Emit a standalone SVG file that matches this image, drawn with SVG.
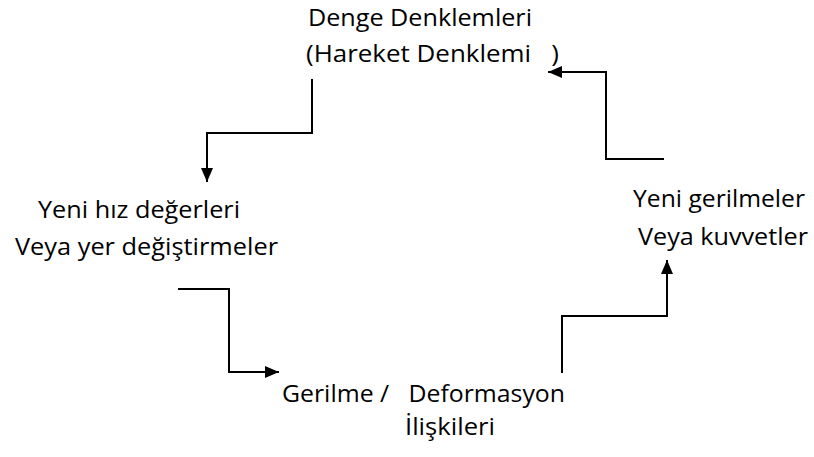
<svg xmlns="http://www.w3.org/2000/svg" width="814" height="457" viewBox="0 0 814 457">
<style>
text{font-family:"Open Sans","Noto Sans",sans-serif;font-size:23.5px;fill:#000;white-space:pre}
.c{fill:none;stroke:#000;stroke-width:2}
</style>
<defs>
<marker id="ah" viewBox="0 0 14 12" refX="14" refY="6" markerWidth="14" markerHeight="12" markerUnits="userSpaceOnUse" orient="auto">
<path d="M0,0 L14,6 L0,12 Z" fill="#000"/>
</marker>
</defs>
<rect width="814" height="457" fill="#fff"/>
<g id="n-denge">
<text x="308" y="26" textLength="224" lengthAdjust="spacingAndGlyphs">Denge Denklemleri</text>
<text x="306" y="62" xml:space="preserve" textLength="253" lengthAdjust="spacingAndGlyphs">(Hareket Denklemi   )</text>
</g>
<g id="n-hiz">
<text x="38" y="218" textLength="202" lengthAdjust="spacingAndGlyphs">Yeni hız değerleri</text>
<text x="15" y="255" textLength="263" lengthAdjust="spacingAndGlyphs">Veya yer değiştirmeler</text>
</g>
<g id="n-gerilme">
<text x="282" y="402" xml:space="preserve" textLength="283" lengthAdjust="spacingAndGlyphs">Gerilme /   Deformasyon</text>
<text x="405" y="435" textLength="90" lengthAdjust="spacingAndGlyphs">İlişkileri</text>
</g>
<g id="n-yeni">
<text x="633" y="207" textLength="172" lengthAdjust="spacingAndGlyphs">Yeni gerilmeler</text>
<text x="638" y="245" textLength="170" lengthAdjust="spacingAndGlyphs">Veya kuvvetler</text>
</g>
<g id="connectors">
<polyline class="c" points="312,79 312,133 207,133 207,182" marker-end="url(#ah)"/>
<polyline class="c" points="178,289 229,289 229,372 279,372" marker-end="url(#ah)"/>
<polyline class="c" points="562,373 562,316 667,316 667,260" marker-end="url(#ah)"/>
<polyline class="c" points="664,159 606,159 606,72 548,72" marker-end="url(#ah)"/>
</g>
</svg>
